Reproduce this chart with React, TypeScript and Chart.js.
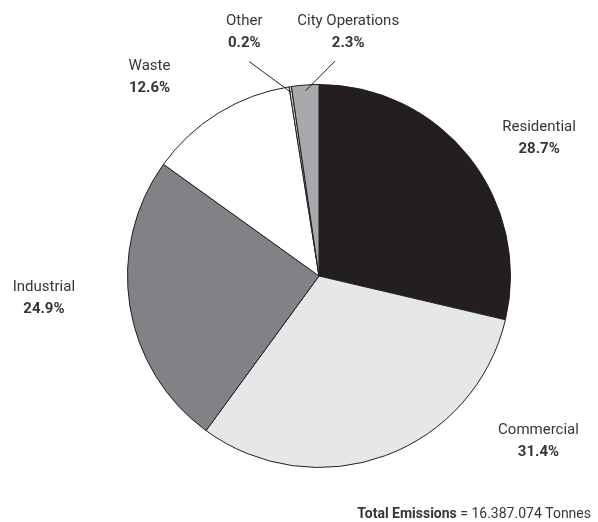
import React, { useEffect, useRef } from "react";
import { Chart, registerables } from "chart.js";

Chart.register(...registerables);

const categories = ["Residential", "Commercial", "Industrial", "Waste", "Other", "City Operations"];
const shares = [28.7, 31.4, 24.9, 12.6, 0.2, 2.3];
const shareLabels = ["28.7%", "31.4%", "24.9%", "12.6%", "0.2%", "2.3%"];
const totalLabel = "Total Emissions";
const totalValue = " = 16.387.074 Tonnes";

const sliceColors = ["#231f20", "#e6e7e8", "#808285", "#ffffff", "#d1d3d4", "#a7a9ac"];

// label placement relative to each slice's outer mid point
const labelPlacement = [
  { dx: 70, dy: -19, leader: false },
  { dx: 153, dy: -14, leader: false },
  { dx: -86, dy: -8, leader: false },
  { dx: -69, dy: -36, leader: false },
  { dx: -46, dy: -54, leader: true },
  { dx: 43, dy: -53, leader: true },
];

const FONT = 'Roboto, "Noto Sans", sans-serif';
const TEXT = "#363636";

const labelPlugin = {
  id: "sliceLabels",
  afterDraw(chart: any) {
    const ctx = chart.ctx as CanvasRenderingContext2D;
    const meta = chart.getDatasetMeta(0);
    ctx.save();
    meta.data.forEach((arc: any, i: number) => {
      const { x, y, startAngle, endAngle, outerRadius } = arc.getProps(
        ["x", "y", "startAngle", "endAngle", "outerRadius"],
        true
      );
      const mid = (startAngle + endAngle) / 2;
      const ox = x + Math.cos(mid) * outerRadius;
      const oy = y + Math.sin(mid) * outerRadius;
      const p = labelPlacement[i];
      const lx = ox + p.dx;
      const ly = oy + p.dy;
      ctx.fillStyle = TEXT;
      ctx.textAlign = "center";
      ctx.textBaseline = "middle";
      ctx.font = `15px ${FONT}`;
      ctx.fillText(categories[i], lx, ly - 11);
      ctx.font = `bold 15px ${FONT}`;
      ctx.fillText(shareLabels[i], lx, ly + 11);
      if (p.leader) {
        const r = outerRadius * 0.97;
        const sx = x + Math.cos(mid) * r;
        const sy = y + Math.sin(mid) * r;
        const ex = lx + (i === 4 ? 5 : -13);
        const ey = ly + 29;
        ctx.strokeStyle = "#231f20";
        ctx.lineWidth = 1;
        ctx.beginPath();
        ctx.moveTo(sx, sy);
        ctx.lineTo(ex, ey);
        ctx.stroke();
      }
    });
    // total
    ctx.textBaseline = "middle";
    ctx.textAlign = "right";
    ctx.font = `14px ${FONT}`;
    const w2 = ctx.measureText(totalValue).width;
    ctx.fillText(totalValue, 591, 514);
    ctx.font = `bold 14px ${FONT}`;
    ctx.fillText(totalLabel, 591 - w2, 514);
    ctx.restore();
  },
};

export default function App() {
  const ref = useRef<HTMLCanvasElement>(null);
  useEffect(() => {
    if (!ref.current) return;
    const chart = new Chart(ref.current, {
      type: "pie",
      data: {
        labels: categories,
        datasets: [
          {
            data: shares,
            backgroundColor: sliceColors,
            borderColor: "#231f20",
            borderWidth: 1,
          },
        ],
      },
      options: {
        responsive: false,
        animation: false,
        layout: { padding: { top: 84, bottom: 54, left: 127, right: 87 } },
        plugins: {
          legend: { display: false },
          tooltip: { enabled: false },
        },
      },
      plugins: [labelPlugin],
    });
    return () => chart.destroy();
  }, []);
  return (
    <div style={{ position: "absolute", left: 0, top: 0, width: 598, height: 522, background: "#fff" }}>
      <canvas ref={ref} width={598} height={522} style={{ width: 598, height: 522 }} />
    </div>
  );
}
